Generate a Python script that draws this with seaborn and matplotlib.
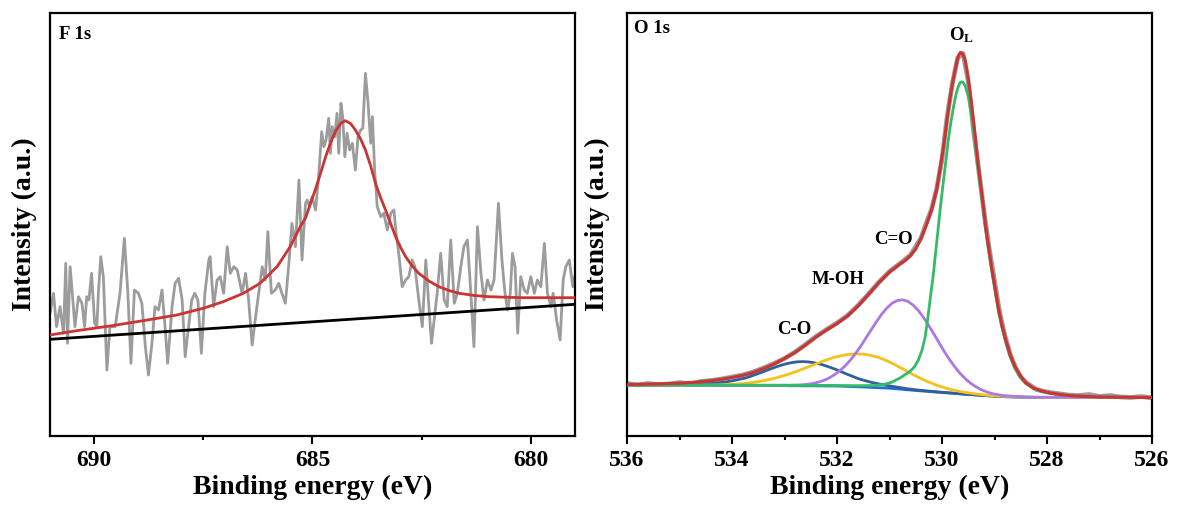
import matplotlib
matplotlib.use("Agg")
import matplotlib.pyplot as plt
import seaborn as sns
import pandas as pd

# ---------------- F 1s spectrum (binding energy in eV, intensity in a.u.) ----------------
f1s_be = [691.00, 690.92, 690.85, 690.77, 690.69, 690.64, 690.60, 690.54, 690.49, 690.43,
          690.35, 690.27, 690.21, 690.16, 690.11, 690.05, 689.98, 689.93, 689.89, 689.84,
          689.78, 689.70, 689.63, 689.51, 689.40, 689.30, 689.22, 689.15, 689.07, 688.98,
          688.90, 688.82, 688.75, 688.67, 688.60, 688.52, 688.44, 688.37, 688.31, 688.21,
          688.14, 688.06, 687.98, 687.91, 687.85, 687.76, 687.69, 687.62, 687.54, 687.46,
          687.37, 687.34, 687.26, 687.18, 687.11, 687.03, 686.95, 686.88, 686.80, 686.72,
          686.61, 686.53, 686.46, 686.38, 686.31, 686.23, 686.15, 686.08, 686.02, 685.94,
          685.85, 685.77, 685.70, 685.62, 685.54, 685.47, 685.39, 685.31, 685.24, 685.16,
          685.12, 685.07, 685.01, 684.93, 684.86, 684.79, 684.74, 684.69, 684.63, 684.59,
          684.55, 684.49, 684.44, 684.40, 684.35, 684.31, 684.26, 684.21, 684.15, 684.09,
          684.02, 683.96, 683.90, 683.85, 683.79, 683.73, 683.67, 683.63, 683.58, 683.52,
          683.44, 683.37, 683.29, 683.21, 683.14, 683.08, 683.02, 682.95, 682.87, 682.80,
          682.72, 682.66, 682.57, 682.49, 682.41, 682.35, 682.28, 682.22, 682.15, 682.07,
          681.99, 681.92, 681.84, 681.76, 681.69, 681.61, 681.54, 681.46, 681.38, 681.31,
          681.23, 681.15, 681.08, 681.00, 680.92, 680.85, 680.75, 680.67, 680.60, 680.54,
          680.48, 680.43, 680.37, 680.31, 680.24, 680.16, 680.09, 680.01, 679.93, 679.86,
          679.78, 679.70, 679.63, 679.55, 679.50, 679.42, 679.34, 679.27, 679.21, 679.13,
          679.05, 678.99]
f1s_raw = [122.7, 142.7, 109.3, 129.3, 102.7, 172.7, 92.7, 169.3, 142.7, 109.3,
           139.3, 132.7, 109.3, 139.3, 136.0, 162.7, 112.7, 109.3, 146.0, 179.3,
           159.3, 66.0, 109.3, 109.3, 142.7, 197.7, 142.7, 72.7, 146.0, 142.7,
           132.7, 89.3, 61.0, 92.7, 129.3, 126.0, 146.0, 109.3, 72.7, 129.3,
           152.7, 157.7, 136.0, 79.3, 102.7, 136.0, 142.7, 136.0, 82.7, 142.7,
           176.0, 179.3, 129.3, 156.0, 159.3, 142.7, 189.3, 162.7, 169.3, 166.0,
           142.7, 162.7, 136.0, 91.0, 116.0, 142.7, 169.3, 156.0, 204.3, 142.7,
           146.0, 152.7, 142.7, 132.7, 172.7, 212.7, 189.3, 256.0, 176.0, 232.7,
           236.0, 229.3, 239.3, 226.0, 259.3, 304.3, 289.3, 296.0, 317.7, 282.7,
           309.3, 299.3, 322.7, 282.7, 332.7, 319.3, 279.3, 302.7, 286.0, 292.7,
           266.0, 299.3, 306.0, 307.7, 362.7, 332.7, 292.7, 319.3, 266.0, 229.3,
           219.3, 222.7, 206.0, 222.7, 226.0, 199.3, 179.3, 149.3, 156.0, 159.3,
           176.0, 169.3, 136.0, 109.3, 176.0, 136.0, 92.7, 116.0, 142.7, 182.7,
           136.0, 129.3, 196.0, 132.7, 142.7, 169.3, 189.3, 196.0, 142.7, 89.3,
           209.3, 162.7, 136.0, 156.0, 146.0, 156.0, 232.7, 176.0, 142.7, 126.0,
           142.7, 182.7, 169.3, 102.7, 159.3, 146.0, 142.7, 159.3, 142.7, 156.0,
           149.3, 192.7, 142.7, 129.3, 142.7, 116.0, 96.0, 156.0, 169.3, 176.0,
           149.3, 162.7]

f1s_fit_be = [691.00, 690.39, 689.63, 688.87, 688.10, 687.50, 687.04, 686.58, 686.20, 685.81,
              685.51, 685.28, 685.16, 685.05, 684.93, 684.80, 684.70, 684.58, 684.47, 684.36,
              684.25, 684.13, 684.02, 683.90, 683.79, 683.67, 683.56, 683.45, 683.33, 683.21,
              683.10, 682.98, 682.87, 682.72, 682.57, 682.34, 682.11, 681.88, 681.65, 681.30,
              680.96, 680.60, 680.20, 679.60, 679.00]
f1s_fit = [101.0, 105.3, 110.0, 115.3, 121.0, 127.7, 134.3, 142.7, 152.7, 169.3,
           189.3, 209.3, 218.0, 232.0, 247.0, 265.0, 279.3, 294.0, 305.0, 312.5,
           315.3, 312.5, 306.0, 297.0, 286.0, 270.0, 252.7, 239.0, 226.0, 212.0,
           199.3, 188.0, 179.3, 170.0, 162.7, 155.0, 149.3, 145.5, 142.7, 140.5,
           139.3, 138.8, 138.3, 138.3, 138.3]

f1s_bg_be = [691.0, 679.0]
f1s_bg = [96.7, 131.7]

# ---------------- O 1s spectrum ----------------
o1s_raw_be = [536.0, 535.8, 535.6, 535.4, 535.2, 535.0, 534.8, 534.6, 534.4, 534.2,
              534.0, 533.8, 533.6, 533.4, 533.2, 533.0, 532.8, 532.6, 532.4, 532.2,
              532.0, 531.8, 531.6, 531.4, 531.2, 531.0, 530.8, 530.6, 530.4, 530.3,
              530.2, 530.1, 530.0, 529.9, 529.8, 529.7, 529.6, 529.5, 529.4, 529.3,
              529.2, 529.1, 529.0, 528.9, 528.8, 528.7, 528.6, 528.5, 528.4, 528.2,
              528.0, 527.8, 527.6, 527.4, 527.2, 527.0, 526.8, 526.6, 526.4, 526.2, 526.0]
o1s_raw = [52.5, 51.0, 52.5, 51.5, 52.0, 53.5, 52.0, 54.5, 55.5, 57.0,
           59.0, 61.0, 64.0, 68.0, 72.5, 77.5, 84.0, 91.5, 99.5, 106.5,
           113.0, 120.5, 130.5, 142.0, 154.0, 164.5, 172.5, 181.0, 198.0, 213.0,
           226.5, 247.5, 277.0, 320.0, 353.0, 378.5, 382.5, 355.0, 306.0, 266.0,
           224.0, 187.0, 155.0, 123.0, 100.0, 81.5, 68.5, 59.0, 53.5, 46.5,
           44.0, 42.5, 41.0, 40.5, 41.5, 39.5, 40.5, 39.0, 38.5, 39.5, 38.0]

# envelope (sum of fitted components)
o1s_env_be = [536.0, 535.5, 535.0, 534.7, 534.4, 534.2, 534.0, 533.8, 533.6, 533.4,
              533.2, 533.0, 532.8, 532.6, 532.4, 532.2, 532.0, 531.8, 531.6, 531.4,
              531.2, 531.0, 530.9, 530.8, 530.7, 530.6, 530.5, 530.4, 530.35, 530.29,
              530.2, 530.15, 530.10, 530.04, 529.97, 529.91, 529.85, 529.80, 529.75, 529.71,
              529.68, 529.65, 529.62, 529.59, 529.56, 529.52, 529.47, 529.43, 529.39, 529.35,
              529.31, 529.26, 529.21, 529.17, 529.12, 529.06, 528.99, 528.93, 528.86, 528.78,
              528.70, 528.61, 528.51, 528.40, 528.26, 528.10, 527.94, 527.70, 527.50, 527.00,
              526.00]
o1s_env = [51.5, 52.0, 52.8, 53.8, 55.3, 56.8, 58.5, 60.6, 63.5, 67.5,
           72.0, 77.5, 83.5, 91.0, 99.0, 106.0, 112.5, 120.0, 130.0, 141.5,
           153.5, 164.0, 168.0, 172.0, 175.5, 180.5, 187.0, 197.5, 204.0, 212.0,
           226.0, 236.0, 247.0, 266.0, 289.0, 314.0, 337.0, 353.0, 366.0, 376.0,
           381.0, 383.5, 383.0, 380.5, 376.0, 364.0, 346.0, 329.0, 311.0, 291.0,
           271.0, 250.0, 229.0, 210.0, 192.0, 170.0, 148.0, 129.0, 111.0, 95.0,
           81.0, 69.5, 60.5, 53.0, 48.0, 45.0, 43.0, 41.2, 40.2, 39.0,
           38.5]

# Shirley background
o1s_bg_be = [536.0, 533.0, 532.0, 531.5, 531.0, 530.5, 530.0, 529.6, 529.2, 528.8, 528.4, 528.0, 526.0]
o1s_bg = [51.0, 50.3, 50.0, 49.0, 47.8, 45.5, 43.5, 42.0, 40.5, 39.3, 38.8, 38.5, 38.5]

# lattice oxygen O_L
ol_be = [536.0, 533.0, 532.0, 531.6, 531.3, 531.1, 530.95, 530.8, 530.7, 530.61,
         530.52, 530.45, 530.38, 530.32, 530.27, 530.22, 530.17, 530.13, 530.09, 530.05,
         530.01, 529.97, 529.92, 529.88, 529.83, 529.78, 529.74, 529.70, 529.66, 529.625,
         529.59, 529.55, 529.50, 529.45, 529.40, 529.35, 529.31, 529.26, 529.21, 529.17,
         529.12, 529.06, 528.99, 528.93, 528.86, 528.78, 528.70, 528.61, 528.51, 528.40,
         528.26, 528.10, 527.94, 527.70, 527.50, 527.00, 526.00]
ol_fit = [51.0, 50.8, 50.5, 50.3, 50.5, 51.5, 54.0, 58.0, 61.5, 64.5,
          69.5, 76.0, 86.0, 99.3, 118.0, 139.3, 159.0, 179.3, 199.0, 219.3,
          238.0, 256.0, 278.0, 296.0, 314.0, 329.3, 340.0, 348.0, 353.0, 354.3,
          353.0, 349.0, 339.3, 324.0, 306.0, 286.0, 266.0, 246.0, 226.0, 207.0,
          189.3, 168.0, 146.0, 127.0, 109.3, 93.0, 79.3, 68.0, 59.3, 52.5,
          47.7, 44.5, 42.7, 41.0, 40.0, 39.0, 38.5]

# C=O component
co_dbl_be = [536.0, 533.0, 532.65, 532.55, 532.45, 532.35, 532.25, 532.15, 532.05, 531.95,
             531.85, 531.75, 531.65, 531.55, 531.45, 531.35, 531.25, 531.15, 531.05, 530.95,
             530.85, 530.75, 530.65, 530.55, 530.45, 530.35, 530.25, 530.15, 530.05, 529.95,
             529.85, 529.75, 529.65, 529.55, 529.45, 529.35, 529.25, 529.15, 529.05, 528.95,
             528.85, 528.40, 526.00]
co_dbl_fit = [51.0, 50.4, 51.2, 51.8, 52.6, 53.9, 55.6, 58.0, 61.2, 65.1,
              69.8, 75.6, 82.3, 89.7, 97.9, 106.1, 114.2, 121.7, 128.0, 132.8,
              135.5, 136.2, 134.6, 130.9, 125.4, 118.4, 110.3, 101.6, 92.7, 83.9,
              75.9, 68.7, 62.3, 57.0, 52.6, 49.1, 46.3, 44.1, 42.5, 41.5,
              40.5, 38.8, 38.5]

# M-OH component
moh_be = [536.0, 534.55, 534.35, 534.15, 533.95, 533.75, 533.55, 533.45, 533.35, 533.25,
          533.15, 533.05, 532.95, 532.85, 532.75, 532.65, 532.55, 532.45, 532.35, 532.25,
          532.15, 532.05, 531.95, 531.85, 531.75, 531.65, 531.55, 531.45, 531.35, 531.25,
          531.15, 531.05, 530.95, 530.85, 530.75, 530.65, 530.55, 530.45, 530.35, 530.25,
          530.15, 530.05, 529.95, 529.85, 529.75, 529.65, 529.55, 529.35, 529.15, 528.95,
          528.40, 528.00, 526.00]
moh_fit = [51.0, 50.8, 51.0, 51.3, 51.8, 52.6, 54.0, 54.8, 55.8, 56.9,
           58.3, 59.8, 61.3, 63.1, 65.0, 67.0, 69.0, 71.1, 73.2, 75.2,
           76.9, 78.7, 80.0, 81.0, 81.7, 82.0, 82.0, 81.6, 80.5, 79.2,
           77.4, 75.2, 72.8, 70.0, 67.2, 64.2, 61.4, 58.7, 56.2, 53.9,
           51.8, 49.9, 48.2, 46.7, 45.6, 44.4, 43.5, 42.0, 40.8, 40.0,
           38.8, 38.5, 38.5]

# C-O component
co_sgl_be = [536.0, 535.15, 534.85, 534.65, 534.55, 534.45, 534.35, 534.25, 534.15, 534.05,
             533.95, 533.85, 533.75, 533.65, 533.55, 533.45, 533.35, 533.25, 533.15, 533.05,
             532.95, 532.85, 532.75, 532.65, 532.55, 532.45, 532.35, 532.25, 532.15, 532.05,
             531.95, 531.85, 531.75, 531.65, 531.55, 531.45, 531.35, 531.25, 531.15, 531.05,
             530.95, 530.85, 530.75, 530.65, 530.45, 530.15, 529.60, 529.20, 528.80, 528.40,
             528.00, 526.00]
co_sgl_fit = [51.0, 51.1, 51.3, 51.7, 51.9, 52.3, 52.7, 53.3, 53.8, 54.7,
              55.6, 56.8, 57.9, 59.6, 61.5, 63.4, 65.4, 67.4, 69.3, 71.0,
              72.4, 73.5, 74.2, 74.4, 74.1, 73.4, 72.3, 70.8, 69.0, 67.1,
              65.0, 62.7, 60.6, 58.5, 56.6, 55.2, 53.7, 52.6, 51.5, 50.6,
              49.7, 48.8, 48.0, 47.2, 45.9, 44.4, 42.0, 40.5, 39.3, 38.8,
              38.5, 38.5]

peak_labels = ["C-O", "M-OH", "C=O"]
peak_label_be = [532.82, 531.97, 530.93]
peak_label_y = [106.7, 156.7, 196.0]

# ---------------- styling ----------------
sns.set_theme(style="ticks")
plt.rcParams["font.family"] = ["Liberation Serif", "DejaVu Serif"]
plt.rcParams["font.weight"] = "bold"
plt.rcParams["axes.labelweight"] = "bold"
plt.rcParams["text.color"] = "black"
plt.rcParams["axes.labelcolor"] = "black"
plt.rcParams["xtick.color"] = "black"
plt.rcParams["xtick.labelcolor"] = "black"
plt.rcParams["mathtext.fontset"] = "custom"
plt.rcParams["mathtext.rm"] = "Liberation Serif:bold"
plt.rcParams["mathtext.bf"] = "Liberation Serif:bold"
plt.rcParams["mathtext.it"] = "Liberation Serif:bold:italic"

fig = plt.figure(figsize=(11.81, 5.07), dpi=100)
ax1 = fig.add_axes([50 / 1181, 71 / 507, 525 / 1181, 423 / 507])
ax2 = fig.add_axes([627 / 1181, 71 / 507, 525 / 1181, 423 / 507])


def line(ax, x, y, color, lw, z=2):
    df = pd.DataFrame({"be": x, "val": y})
    sns.lineplot(data=df, x="be", y="val", ax=ax, color=color, linewidth=lw,
                 estimator=None, sort=False, zorder=z)


# F 1s panel
line(ax1, f1s_be, f1s_raw, "#9c9c9c", 2.0, 2)
line(ax1, f1s_bg_be, f1s_bg, "#000000", 2.0, 3)
line(ax1, f1s_fit_be, f1s_fit, "#cc3333", 2.0, 4)
ax1.set_xlim(691, 679)
ax1.set_ylim(0, 423)
ax1.set_xticks([690, 685, 680])
ax1.set_xticks([687.5, 682.5], minor=True)
ax1.text(9 / 525, 1 - (35 - 13) / 423, "F 1s", transform=ax1.transAxes,
         fontsize=13.5, fontweight="bold", ha="left", va="center", color="black")

# O 1s panel
line(ax2, o1s_raw_be, o1s_raw, "#9c9c9c", 3.4, 2)
line(ax2, o1s_bg_be, o1s_bg, "#1f6fd6", 2.0, 3)
line(ax2, co_sgl_be, co_sgl_fit, "#2f609a", 2.0, 4)
line(ax2, moh_be, moh_fit, "#f5c21b", 2.0, 4)
line(ax2, co_dbl_be, co_dbl_fit, "#ad78e3", 2.0, 4)
line(ax2, ol_be, ol_fit, "#33bb66", 2.0, 5)
line(ax2, o1s_env_be, o1s_env, "#cc3333", 2.2, 6)
ax2.set_xlim(536, 526)
ax2.set_ylim(0, 423)
ax2.set_xticks([536, 534, 532, 530, 528, 526])
ax2.set_xticks([535, 533, 531, 529, 527], minor=True)
ax2.text(7 / 525, 1 - (29 - 13) / 423, "O 1s", transform=ax2.transAxes,
         fontsize=13.5, fontweight="bold", ha="left", va="center", color="black")
for lab, xb, yv in zip(peak_labels, peak_label_be, peak_label_y):
    ax2.text(xb, yv, lab, fontsize=13.5, fontweight="bold", ha="center", va="center",
             color="black")
ax2.text(529.62, 401, r"O$_{\mathrm{L}}$", fontsize=13.5, fontweight="bold",
         ha="center", va="center", color="black")

for ax, lx in ((ax1, -13 / 525), (ax2, -17 / 525)):
    ax.set_yticks([])
    ax.set_xlabel("Binding energy (eV)", fontsize=20, fontweight="bold", labelpad=3,
                  color="black")
    ax.set_ylabel("Intensity (a.u.)", fontsize=20, fontweight="bold", color="black")
    ax.yaxis.set_label_coords(lx, 0.5)
    ax.tick_params(axis="x", which="major", direction="out", length=6, width=1.5,
                   labelsize=17, pad=4, color="black", labelcolor="black")
    ax.tick_params(axis="x", which="minor", direction="out", length=3, width=1.5,
                   color="black")
    for lab in ax.get_xticklabels():
        lab.set_fontweight("bold")
    for sp in ax.spines.values():
        sp.set_visible(True)
        sp.set_linewidth(1.6)
        sp.set_color("black")

fig.savefig("out.png", dpi=100, facecolor="white")
